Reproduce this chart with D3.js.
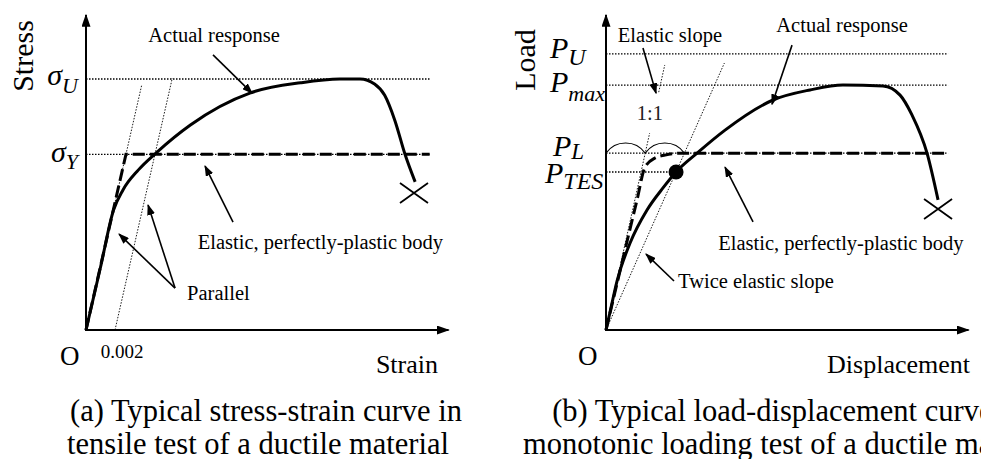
<!DOCTYPE html>
<html>
<head>
<meta charset="utf-8">
<title>Stress-strain and load-displacement curves</title>
<script src="https://cdn.jsdelivr.net/npm/d3@7"></script>
<style>
body { margin: 0; background: #fff; }
svg, svg text { font-family: "Liberation Serif", "Times New Roman", Times, serif; }
svg { display: block; }
.curve { fill: none; stroke: #000; stroke-width: 3; }
.axis-line { stroke: #000; stroke-width: 2; }
.level { stroke: #000; stroke-width: 1.3; stroke-dasharray: 1.5, 1.5; }
.guide { stroke: #000; stroke-width: 0.9; stroke-dasharray: 1.5, 1.5; }
.epp { fill: none; stroke: #000; stroke-width: 3; stroke-dasharray: 12, 5; }
.pointer { stroke: #000; stroke-width: 1.6; }
.note { font-size: 20.5px; }
.caption { font-size: 30.5px; }
</style>
</head>
<body>
<svg width="981" height="459"></svg>
<script>

// ---- (a) stress-strain: strain in %, stress as fraction of sigma_U ----
var strainA = [0, 0.10, 0.19, 0.255, 0.36, 0.49, 0.72, 1.13, 1.48, 1.75, 1.89, 1.99, 2.06, 2.13, 2.20, 2.27];
var stressA = [0, 0.25, 0.478, 0.558, 0.637, 0.709, 0.817, 0.944, 0.985, 1.0, 1.0, 0.98, 0.935, 0.835, 0.70, 0.59];
var sigmaU = 1.0, sigmaY = 0.70;
var elasticA = 2.54;          // stress per % strain
var offsetA = 0.2;            // 0.002 offset, in %
var elasticTopA = 0.976, offsetTopA = 1.004;
var levelEndA = 2.37;
var fractureA = [2.262, 0.546];

var notesA = [
  {text: "Actual response", x: 0.883, y: 1.147, anchor: "middle"},
  {text: "Elastic, perfectly-plastic body", x: 1.617, y: 0.323, anchor: "middle"},
  {text: "Parallel", x: 0.697, y: 0.120, anchor: "start"}
];
var pointersA = [
  [0.876, 1.096, 1.145, 0.944],
  [1.014, 0.430, 0.821, 0.653],
  [0.614, 0.167, 0.228, 0.382],
  [0.614, 0.167, 0.428, 0.498]
];

// ---- (b) load-displacement: displacement in mm, load in kN ----
var dispB = [0, 0.34, 0.76, 1.66, 2.83, 3.93, 4.83, 6.28, 8.21, 11.52, 14.07, 16.34, 19.10, 20.28, 21.10, 22.14, 22.90];
var loadB = [0, 9.0, 20.0, 35.5, 49.0, 58.0, 64.5, 72.2, 81.6, 93.9, 98.0, 100, 99.6, 95.9, 87.8, 72.2, 53.1];
var eppDispB = [0, 2.14, 2.69, 3.38, 4.07, 5.1, 23.59];
var eppLoadB = [0, 53.1, 66.5, 70.2, 71.4, 72.2, 72.2];
var P_U = 112.7, P_max = 100, P_L = 72.2, P_TES = 64.5;
var elasticB = 26.7;          // kN per mm
var elasticSegB = [[0, 80.4], [97.1, 108.2]];
var twiceTopB = 109;
var levelEndB = 23.59;
var fractureB = [22.9, 49.4];

var notesB = [
  {text: "Elastic slope", x: 4.41, y: 117.6, anchor: "middle"},
  {text: "Actual response", x: 16.28, y: 121.6, anchor: "middle"},
  {text: "Elastic, perfectly-plastic body", x: 16.2, y: 32.7, anchor: "middle"},
  {text: "Twice elastic slope", x: 4.97, y: 17.1, anchor: "start"},
  {text: "1:1", x: 3.03, y: 85.7, anchor: "middle"}
];
var pointersB = [
  [2.55, 115.1, 3.45, 96.7],
  [12.83, 116.3, 11.45, 92.2],
  [10.14, 44.1, 8.21, 66.5],
  [4.69, 20.0, 2.76, 31.0]
];

var svg = d3.select("svg");
var defs = svg.append("defs");

function addHead(id, w, h) {
  defs.append("marker").attr("id", id)
    .attr("viewBox", "0 0 10 10").attr("preserveAspectRatio", "none")
    .attr("refX", 9).attr("refY", 5)
    .attr("markerWidth", w).attr("markerHeight", h)
    .attr("markerUnits", "userSpaceOnUse").attr("orient", "auto")
    .append("path").attr("d", "M0,0L10,5L0,10Z").attr("fill", "#000");
}
addHead("axisHead", 13, 9);
addHead("noteHead", 11, 8);

var xA = d3.scaleLinear().domain([0, 2.5]).range([86, 448.5]);
var yA = d3.scaleLinear().domain([0, 1.255]).range([330, 15]);
var xB = d3.scaleLinear().domain([0, 25]).range([606, 968.5]);
var yB = d3.scaleLinear().domain([0, 128.6]).range([330, 15]);

function lineGen(x, y, curve) {
  var l = d3.line().x(function(d) { return x(d[0]); }).y(function(d) { return y(d[1]); });
  return curve ? l.curve(curve) : l;
}

function level(g, x, y, v, xEnd) {
  g.append("line").attr("class", "level")
    .attr("x1", x(0)).attr("x2", x(xEnd))
    .attr("y1", y(v)).attr("y2", y(v));
}

function guide(g, x, y, p0, p1) {
  g.append("line").attr("class", "guide")
    .attr("x1", x(p0[0])).attr("y1", y(p0[1]))
    .attr("x2", x(p1[0])).attr("y2", y(p1[1]));
}

function axes(g, x, y) {
  var xd = x.domain(), yd = y.domain();
  g.append("line").attr("class", "axis-line")
    .attr("x1", x(0)).attr("y1", y(0)).attr("x2", x(0)).attr("y2", y(yd[1]))
    .attr("marker-end", "url(#axisHead)");
  g.append("line").attr("class", "axis-line")
    .attr("x1", x(0) - 1).attr("y1", y(0)).attr("x2", x(xd[1])).attr("y2", y(0))
    .attr("marker-end", "url(#axisHead)");
}

function cross(g, cx, cy) {
  g.append("path")
    .attr("d", "M" + (cx - 14) + "," + (cy - 10) + "L" + (cx + 14) + "," + (cy + 10) +
               "M" + (cx - 14) + "," + (cy + 10) + "L" + (cx + 14) + "," + (cy - 10))
    .attr("stroke", "#000").attr("stroke-width", 1.8).attr("fill", "none");
}

function notes(g, x, y, list, ptrs) {
  g.selectAll("line.pointer").data(ptrs).enter().append("line")
    .attr("class", "pointer")
    .attr("x1", function(d) { return x(d[0]); }).attr("y1", function(d) { return y(d[1]); })
    .attr("x2", function(d) { return x(d[2]); }).attr("y2", function(d) { return y(d[3]); })
    .attr("marker-end", "url(#noteHead)");
  g.selectAll("text.note").data(list).enter().append("text")
    .attr("class", "note")
    .attr("x", function(d) { return x(d.x); }).attr("y", function(d) { return y(d.y); })
    .attr("text-anchor", function(d) { return d.anchor; })
    .text(function(d) { return d.text; });
}

function symLabel(g, xPos, yBase, main, sub, mainSize, subSize, subDy, anchor) {
  var t = g.append("text").attr("x", xPos).attr("y", yBase)
    .attr("text-anchor", anchor).attr("font-style", "italic").attr("font-size", mainSize);
  t.append("tspan").text(main);
  t.append("tspan").attr("dy", subDy).attr("font-size", subSize).text(sub);
}

// ================= panel (a) =================
var ga = svg.append("g");
level(ga, xA, yA, sigmaU, levelEndA);
level(ga, xA, yA, sigmaY, levelEndA);
guide(ga, xA, yA, [0, 0], [elasticTopA / elasticA, elasticTopA]);
guide(ga, xA, yA, [offsetA, 0], [offsetA + offsetTopA / elasticA, offsetTopA]);

ga.append("path").attr("class", "epp")
  .attr("d", lineGen(xA, yA)([[0, 0], [sigmaY / elasticA, sigmaY], [levelEndA, sigmaY]]));

ga.append("path").attr("class", "curve")
  .attr("d", lineGen(xA, yA, d3.curveMonotoneX)(d3.zip(strainA, stressA)));

cross(ga, xA(fractureA[0]), yA(fractureA[1]));
axes(ga, xA, yA);
notes(ga, xA, yA, notesA, pointersA);

symLabel(ga, 78, yA(sigmaU) + 6, "σ", "U", 30, 22, 8, "end");
symLabel(ga, 78, yA(sigmaY) + 8, "σ", "Y", 30, 22, 7, "end");

ga.append("text").attr("transform", "translate(33," + 56 + ") rotate(-90)")
  .attr("text-anchor", "middle").attr("font-size", 30).text("Stress");
ga.append("text").attr("x", xA(0) - 26).attr("y", 365).attr("font-size", 27).text("O");
ga.append("text").attr("x", xA(offsetA) + 7).attr("y", 358)
  .attr("text-anchor", "middle").attr("font-size", 19).text("0.002");
ga.append("text").attr("x", 438).attr("y", 373).attr("text-anchor", "end")
  .attr("font-size", 26).text("Strain");

ga.append("text").attr("class", "caption").attr("x", 266).attr("y", 421)
  .attr("text-anchor", "middle").text("(a) Typical stress-strain curve in");
ga.append("text").attr("class", "caption").attr("x", 258).attr("y", 454)
  .attr("text-anchor", "middle").text("tensile test of a ductile material");

// ================= panel (b) =================
var gb = svg.append("g");
level(gb, xB, yB, P_U, levelEndB);
level(gb, xB, yB, P_max, levelEndB);
level(gb, xB, yB, P_L, levelEndB);
level(gb, xB, yB, P_TES, P_TES / (elasticB / 2));

elasticSegB.forEach(function(s) {
  guide(gb, xB, yB, [s[0] / elasticB, s[0]], [s[1] / elasticB, s[1]]);
});
guide(gb, xB, yB, [0, 0], [twiceTopB / (elasticB / 2), twiceTopB]);

// equal-distance arcs at P_L (1:1)
var arcStops = [0, P_L / elasticB, P_L / (elasticB / 2)];
for (var i = 0; i < 2; i++) {
  var a0 = xB(arcStops[i]), a1 = xB(arcStops[i + 1]);
  gb.append("path")
    .attr("d", "M" + a0 + "," + yB(P_L) + "A24,24 0 0,1 " + a1 + "," + yB(P_L))
    .attr("fill", "none").attr("stroke", "#000").attr("stroke-width", 1.1);
}

gb.append("path").attr("class", "epp")
  .attr("d", lineGen(xB, yB, d3.curveMonotoneX)(d3.zip(eppDispB, eppLoadB)));

gb.append("path").attr("class", "curve")
  .attr("d", lineGen(xB, yB, d3.curveMonotoneX)(d3.zip(dispB, loadB)));

gb.append("circle")
  .attr("cx", xB(P_TES / (elasticB / 2))).attr("cy", yB(P_TES))
  .attr("r", 7.5).attr("fill", "#000");

cross(gb, xB(fractureB[0]), yB(fractureB[1]));
axes(gb, xB, yB);
notes(gb, xB, yB, notesB, pointersB);
gb.selectAll("text.note").filter(function(d) { return d.text === "1:1"; })
  .attr("font-size", 19).attr("fill", "#222");

symLabel(gb, 550, yB(P_U) + 4, "P", "U", 30, 24, 7, "start");
symLabel(gb, 550, yB(P_max) + 7, "P", "max", 30, 22, 9, "start");
symLabel(gb, 553, yB(P_L) + 3, "P", "L", 30, 23, 3, "start");
symLabel(gb, 545, yB(P_TES) + 11, "P", "TES", 30, 24, 6, "start");

gb.append("text").attr("transform", "translate(535," + 60 + ") rotate(-90)")
  .attr("text-anchor", "middle").attr("font-size", 30).text("Load");
gb.append("text").attr("x", xB(0) - 28).attr("y", 365).attr("font-size", 27).text("O");
gb.append("text").attr("x", 970).attr("y", 373).attr("text-anchor", "end")
  .attr("font-size", 26).text("Displacement");

// the right-hand caption runs past the frame, as in the original figure
gb.append("text").attr("class", "caption").attr("x", 788).attr("y", 421)
  .attr("text-anchor", "middle").text("(b) Typical load-displacement curve in");
gb.append("text").attr("class", "caption").attr("x", 789).attr("y", 454)
  .attr("text-anchor", "middle").text("monotonic loading test of a ductile material");

</script>
</body>
</html>
